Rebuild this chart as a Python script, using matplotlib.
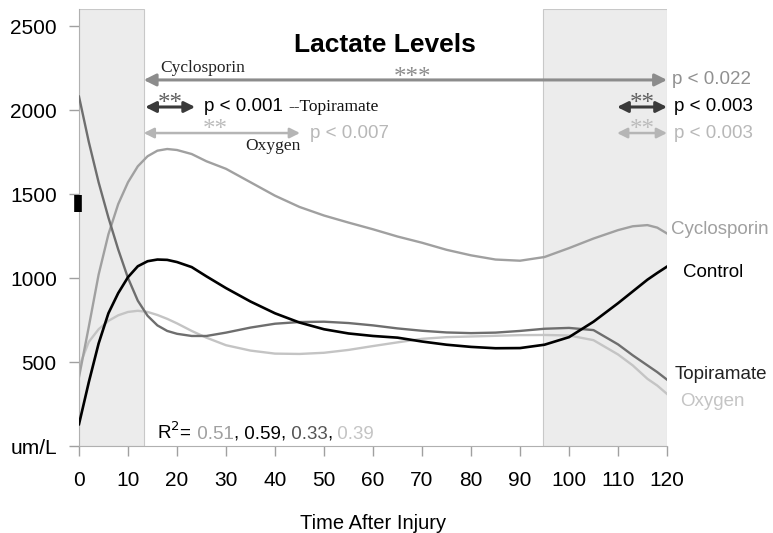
import matplotlib.pyplot as plt
from matplotlib.patches import Rectangle

# data
t = [0, 2, 4, 6, 8, 10, 12, 14, 16, 18, 20, 23, 26, 30, 35, 40, 45, 50, 55, 60,
     65, 70, 75, 80, 85, 90, 95, 100, 105, 110, 113, 116, 118, 120]
cyclosporin = [410, 710, 1020, 1260, 1440, 1570, 1665, 1725, 1758, 1768, 1762, 1738, 1695, 1650,
               1570, 1490, 1423, 1372, 1330, 1290, 1247, 1210, 1168, 1135, 1110, 1103, 1125,
               1178, 1235, 1285, 1308, 1315, 1300, 1265]
control = [130, 380, 610, 790, 910, 1005, 1070, 1100, 1110, 1108, 1095, 1065, 1010, 940,
           860, 790, 735, 695, 670, 655, 645, 622, 603, 590, 582, 583, 603, 648, 740, 850,
           920, 990, 1030, 1068]
topiramate = [2080, 1810, 1570, 1360, 1170, 1000, 865, 775, 718, 685, 668, 655, 655, 675,
              705, 728, 738, 740, 732, 718, 700, 686, 676, 672, 675, 685, 698, 703, 690, 605,
              540, 480, 440, 395]
oxygen = [470, 620, 695, 745, 778, 798, 805, 798, 780, 757, 730, 685, 645, 600, 568, 550,
          548, 555, 572, 595, 617, 638, 648, 652, 656, 660, 661, 658, 630, 545, 480, 400,
          360, 310]

shade_early = (0, 13.2)
shade_late = (94.7, 120)
r2_values = ["0.51", "0.59", "0.33", "0.39"]

c_cyc = '#a0a0a0'
c_ctl = '#000000'
c_top = '#6e6e6e'
c_oxy = '#c4c4c4'

sans = 'Liberation Sans'
serif = 'Liberation Serif'
plt.rcParams['font.family'] = sans

fig = plt.figure(figsize=(7.73, 5.33), dpi=100)
ax = fig.add_axes([0.1022, 0.1632, 0.7607, 0.8195])

# shaded windows
for a, b in [shade_early, shade_late]:
    ax.add_patch(Rectangle((a, 0), b - a, 2600, facecolor='#ececec', edgecolor='#c8c8c8',
                           linewidth=0.8, zorder=0))

ax.plot(t, oxygen, color=c_oxy, lw=1.7, zorder=2)
ax.plot(t, cyclosporin, color=c_cyc, lw=1.7, zorder=2)
ax.plot(t, topiramate, color=c_top, lw=1.7, zorder=3)
ax.plot(t, control, color=c_ctl, lw=1.9, zorder=4)

ax.set_xlim(0, 120)
ax.set_ylim(0, 2600)
ax.set_xticks(range(0, 121, 10))
ax.set_yticks([0, 500, 1000, 1500, 2000, 2500])
ax.set_yticklabels(['um/L', '500', '1000', '1500', '2000', '2500'])
ax.tick_params(axis='both', colors='#a0a0a0', labelcolor='black', labelsize=15, length=7, width=1)
ax.tick_params(axis='x', pad=11)
ax.tick_params(axis='y', pad=9)
for s in ['top', 'right']:
    ax.spines[s].set_visible(False)
for s in ['left', 'bottom']:
    ax.spines[s].set_color('#b0b0b0')
ax.set_xlabel('Time After Injury', fontsize=14.5, labelpad=17)

# black mark on y axis
ax.plot([-0.2, -0.2], [1390, 1495], color='black', lw=5.5, solid_capstyle='butt', clip_on=False, zorder=5)

ax.text(62.4, 2387, 'Lactate Levels', fontsize=19, fontweight='bold', ha='center', va='center')


def arrow(x1, x2, y, color, lw, ms):
    ax.annotate('', xy=(x2, y), xytext=(x1, y),
                arrowprops=dict(arrowstyle='<|-|>', color=color, lw=lw, mutation_scale=ms,
                                shrinkA=0, shrinkB=0))


def stars(x, y, s, color):
    ax.text(x, y, s, family=serif, fontsize=18, color=color, ha='center', va='center')


# cyclosporin
arrow(13.2, 120, 2179, '#8c8c8c', 2.2, 18)
ax.text(16.5, 2250, 'Cyclosporin', family=serif, fontsize=12.5, color='#222222', va='center')
stars(68, 2190, '***', '#8c8c8c')
ax.text(121, 2179, 'p < 0.022', fontsize=13.5, color='#909090', va='center')

# topiramate
arrow(13.5, 23.7, 2018, '#3a3a3a', 2.2, 16)
arrow(109.8, 120, 2018, '#3a3a3a', 2.2, 16)
stars(18.6, 2035, '**', '#606060')
stars(114.9, 2035, '**', '#606060')
p1 = ax.text(25.6, 2018, 'p < 0.001 ', fontsize=13.5, color='black', va='center')
ax.annotate('--Topiramate', xy=(1, 0.5), xycoords=p1, va='center', family=serif,
            fontsize=12.5, color='#111111')
ax.text(121.5, 2018, 'p < 0.003', fontsize=13.5, color='black', va='center')

# oxygen
arrow(13.2, 45.1, 1863, '#b5b5b5', 1.8, 15)
arrow(109.8, 120, 1863, '#b5b5b5', 1.8, 15)
stars(27.8, 1880, '**', '#bcbcbc')
stars(114.9, 1880, '**', '#bcbcbc')
ax.text(47.1, 1863, 'p < 0.007', fontsize=13.5, color='#b8b8b8', va='center')
ax.text(39.6, 1783, 'Oxygen', family=serif, fontsize=12.5, color='#222222', ha='center', va='center')
ax.text(121.5, 1863, 'p < 0.003', fontsize=13.5, color='#b8b8b8', va='center')

# series labels on the right
ax.text(120.8, 1286, 'Cyclosporin', fontsize=13.5, color=c_cyc, va='center', clip_on=False)
ax.text(123.2, 1030, 'Control', fontsize=13.5, color='black', va='center')
ax.text(121.5, 423, 'Topiramate', fontsize=13.5, color='#222222', va='center')
ax.text(122.7, 262, 'Oxygen', fontsize=13.5, color=c_oxy, va='center')

# R^2 values coloured per series
prev = ax.text(15.9, 42, 'R$^2$=', fontsize=13.5, color='black', va='baseline')
r2_colors = [c_cyc, 'black', '#555555', c_oxy]
for i, (val, col) in enumerate(zip(r2_values, r2_colors)):
    prev = ax.annotate(' ' + val, xy=(1, 0), xycoords=prev, va='bottom', fontsize=13.5, color=col)
    if i < len(r2_values) - 1:
        prev = ax.annotate(',', xy=(1, 0), xycoords=prev, va='bottom', fontsize=13.5, color='black')

fig.savefig('out.png', dpi=100)
